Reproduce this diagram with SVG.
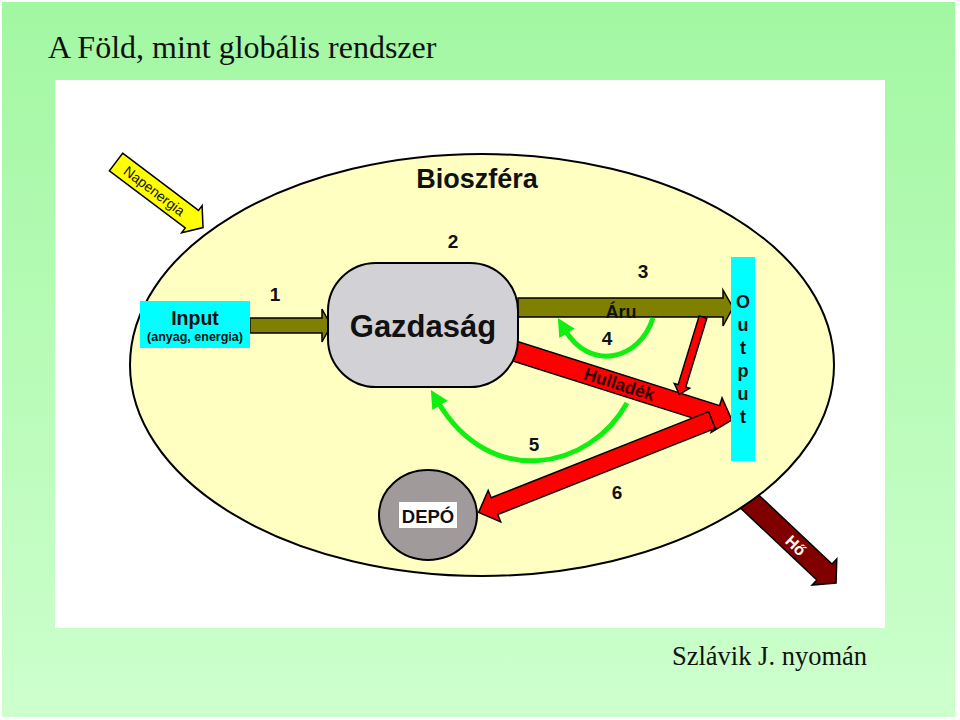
<svg xmlns="http://www.w3.org/2000/svg" width="960" height="720" viewBox="0 0 960 720">
<defs>
<linearGradient id="bg" x1="0" y1="0" x2="0" y2="1">
<stop offset="0" stop-color="#a2f7a2"/>
<stop offset="1" stop-color="#cdffcd"/>
</linearGradient>
<marker id="gh" markerUnits="userSpaceOnUse" markerWidth="20" markerHeight="20" refX="4" refY="9" orient="auto">
<path d="M0,0 L18,9 L0,18 Z" fill="#11ee11"/>
</marker>
<style>
.lbl{font-family:"Liberation Sans",Arial,sans-serif;font-weight:bold;fill:#111;}
.ser{font-family:"Liberation Serif","Times New Roman",serif;fill:#111;}
.arr{stroke:#000;stroke-width:1.5;stroke-linejoin:miter;}
.grn{fill:none;stroke:#11ee11;stroke-width:5;}
</style>
</defs>
<rect x="0" y="0" width="960" height="720" fill="#ffffff"/>
<rect x="2" y="2" width="953" height="715" fill="url(#bg)"/>
<text class="ser" x="48" y="58" font-size="32">A Föld, mint globális rendszer</text>
<rect x="55" y="80" width="830" height="548" fill="#ffffff"/>

<g id="ho">
<g transform="translate(748,500) rotate(43.3)">
<polygon class="arr" points="0,-11 105,-11 105,-18 121,0 105,18 105,11 0,11" fill="#800000"/>
<text x="66" y="6" font-size="16" text-anchor="middle" class="lbl" style="fill:#ffffff">Hő</text>
</g>
</g>

<g id="bioszfera">
<ellipse cx="482" cy="365" rx="352" ry="211" fill="#ffffc2" stroke="#000" stroke-width="2"/>
<text class="lbl" x="477" y="188" font-size="27" text-anchor="middle">Bioszféra</text>
</g>

<g id="napenergia">
<g transform="translate(116,162) rotate(37)">
<polygon class="arr" points="0,-11 95,-11 95,-17 109,0 95,17 95,11 0,11" fill="#ffff00" stroke-width="2"/>
<text x="48" y="5" font-size="14" text-anchor="middle" font-family="Liberation Sans, Arial, sans-serif" fill="#111">Napenergia</text>
</g>
</g>

<g id="connectors">
<!-- 1 -->
<polygon class="arr" points="250,318 322,318 322,309 331,325.5 322,342 322,333 250,333" fill="#808000"/>
<!-- Hulladék -->
<g transform="translate(505,348) rotate(17.6)">
<polygon class="arr" points="0,-10 222,-10 222,-18 238,0 222,18 222,10 0,10" fill="#ff0000"/>
<text x="120" y="6" font-size="17.5" text-anchor="middle" class="lbl" style="fill:#300000">Hulladék</text>
</g>
<!-- Áru -->
<polygon class="arr" points="518,298 723,298 723,290 733,307.5 723,326 723,317 518,317" fill="#808000"/>
<text class="lbl" x="621" y="318" font-size="18" text-anchor="middle">Áru</text>
<!-- thin red from Áru -->
<g transform="translate(703,317) rotate(107)">
<polygon class="arr" points="0,-4 72,-4 72,-8 81,0 72,8 72,4 0,4" fill="#ff0000"/>
</g>
<!-- 6 -->
<g transform="translate(712,420) rotate(158.4)">
<polygon class="arr" points="0,-9 234,-9 234,-17 251,0 234,17 234,9 0,9" fill="#ff0000"/>
</g>
<!-- green 4 -->
<path class="grn" d="M653,318 C640,360 590,372 565,330" marker-end="url(#gh)"/>
<!-- green 5 -->
<path class="grn" d="M627,403 C590,470 490,490 438,402" marker-end="url(#gh)"/>
</g>

<g id="input">
<rect x="140" y="301" width="110" height="47" fill="#00ffff"/>
<text class="lbl" x="195" y="325" font-size="19.5" text-anchor="middle">Input</text>
<text class="lbl" x="195" y="341" font-size="12.5" text-anchor="middle">(anyag, energia)</text>
</g>

<g id="gazdasag">
<rect x="328" y="263" width="190" height="124" rx="48" ry="48" fill="#d2d2d6" stroke="#000" stroke-width="2"/>
<text class="lbl" x="423" y="337" font-size="31" text-anchor="middle">Gazdaság</text>
</g>

<g id="output">
<rect x="731" y="257" width="24" height="204" fill="#00ffff"/>
<g class="lbl" font-size="18" text-anchor="middle">
<text x="743" y="308">O</text>
<text x="743" y="331">u</text>
<text x="743" y="354">t</text>
<text x="743" y="377">p</text>
<text x="743" y="400">u</text>
<text x="743" y="423">t</text>
</g>
</g>

<g id="depo">
<ellipse cx="428" cy="515" rx="49" ry="45" fill="#a09a9a" stroke="#000" stroke-width="2"/>
<rect x="399" y="502" width="58" height="26" fill="#ffffff"/>
<text class="lbl" x="428" y="523" font-size="18.5" text-anchor="middle">DEPÓ</text>
</g>

<g id="numbers" class="lbl" font-size="19" text-anchor="middle">
<text x="275" y="301">1</text>
<text x="453" y="248">2</text>
<text x="643" y="278">3</text>
<text x="607" y="345">4</text>
<text x="534" y="451">5</text>
<text x="617" y="499">6</text>
</g>

<text class="ser" x="672" y="665" font-size="26.5">Szlávik J. nyomán</text>
</svg>
